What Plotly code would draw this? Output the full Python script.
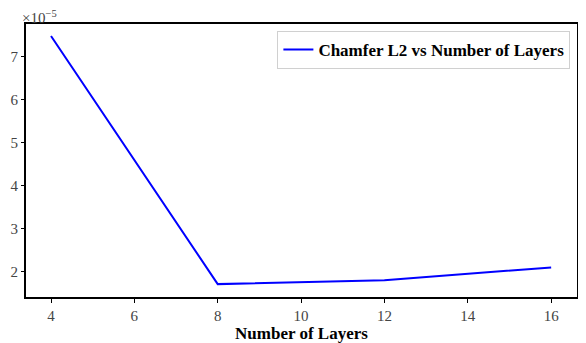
import plotly.graph_objects as go

# data
layers = [4, 8, 12, 16]
chamfer_l2 = [7.48e-5, 1.70e-5, 1.79e-5, 2.09e-5]

y_ticks = [2e-5, 3e-5, 4e-5, 5e-5, 6e-5, 7e-5]
y_labels = ["2", "3", "4", "5", "6", "7"]
x_ticks = [4, 6, 8, 10, 12, 14, 16]

serif = "Liberation Serif"

fig = go.Figure()
fig.add_trace(go.Scatter(x=layers, y=chamfer_l2, mode="lines",
                         line=dict(color="#0000ff", width=2),
                         name="<b>Chamfer L2 vs Number of Layers</b>"))

fig.update_xaxes(range=[3.4, 16.62], tickvals=x_ticks, automargin=False,
                 showgrid=False, zeroline=False,
                 showline=True, linecolor="black", linewidth=2, mirror=True,
                 ticks="outside", ticklen=4, tickcolor="black",
                 tickfont=dict(family=serif, size=15, color="#444"),
                 title=dict(text="<b>Number of Layers</b>", standoff=2,
                            font=dict(family=serif, size=17, color="black")))
fig.update_yaxes(range=[1.40e-5, 7.76e-5], tickvals=y_ticks, ticktext=y_labels,
                 automargin=False,
                 showgrid=False, zeroline=False,
                 showline=True, linecolor="black", linewidth=2, mirror=True,
                 ticks="outside", ticklen=3, tickcolor="black",
                 tickfont=dict(family=serif, size=15, color="#444"))

fig.add_annotation(text="×10<sup>−5</sup>", xref="paper", yref="paper",
                   x=0, y=1, xanchor="left", yanchor="bottom", showarrow=False,
                   font=dict(family=serif, size=15, color="#444"), yshift=-4, xshift=-6)

# page body adds ~8px offset, so the figure is sized to fit the window
fig.update_layout(width=578, height=335,
                  margin=dict(l=18, r=9, t=16, b=46),
                  plot_bgcolor="white", paper_bgcolor="white",
                  showlegend=True,
                  legend=dict(x=0.988, y=0.975, xanchor="right", yanchor="top",
                              bgcolor="rgba(255,255,255,0.8)", bordercolor="#d0d0d0",
                              borderwidth=1,
                              font=dict(family=serif, size=17, color="black")))

fig.write_html("out.html")
